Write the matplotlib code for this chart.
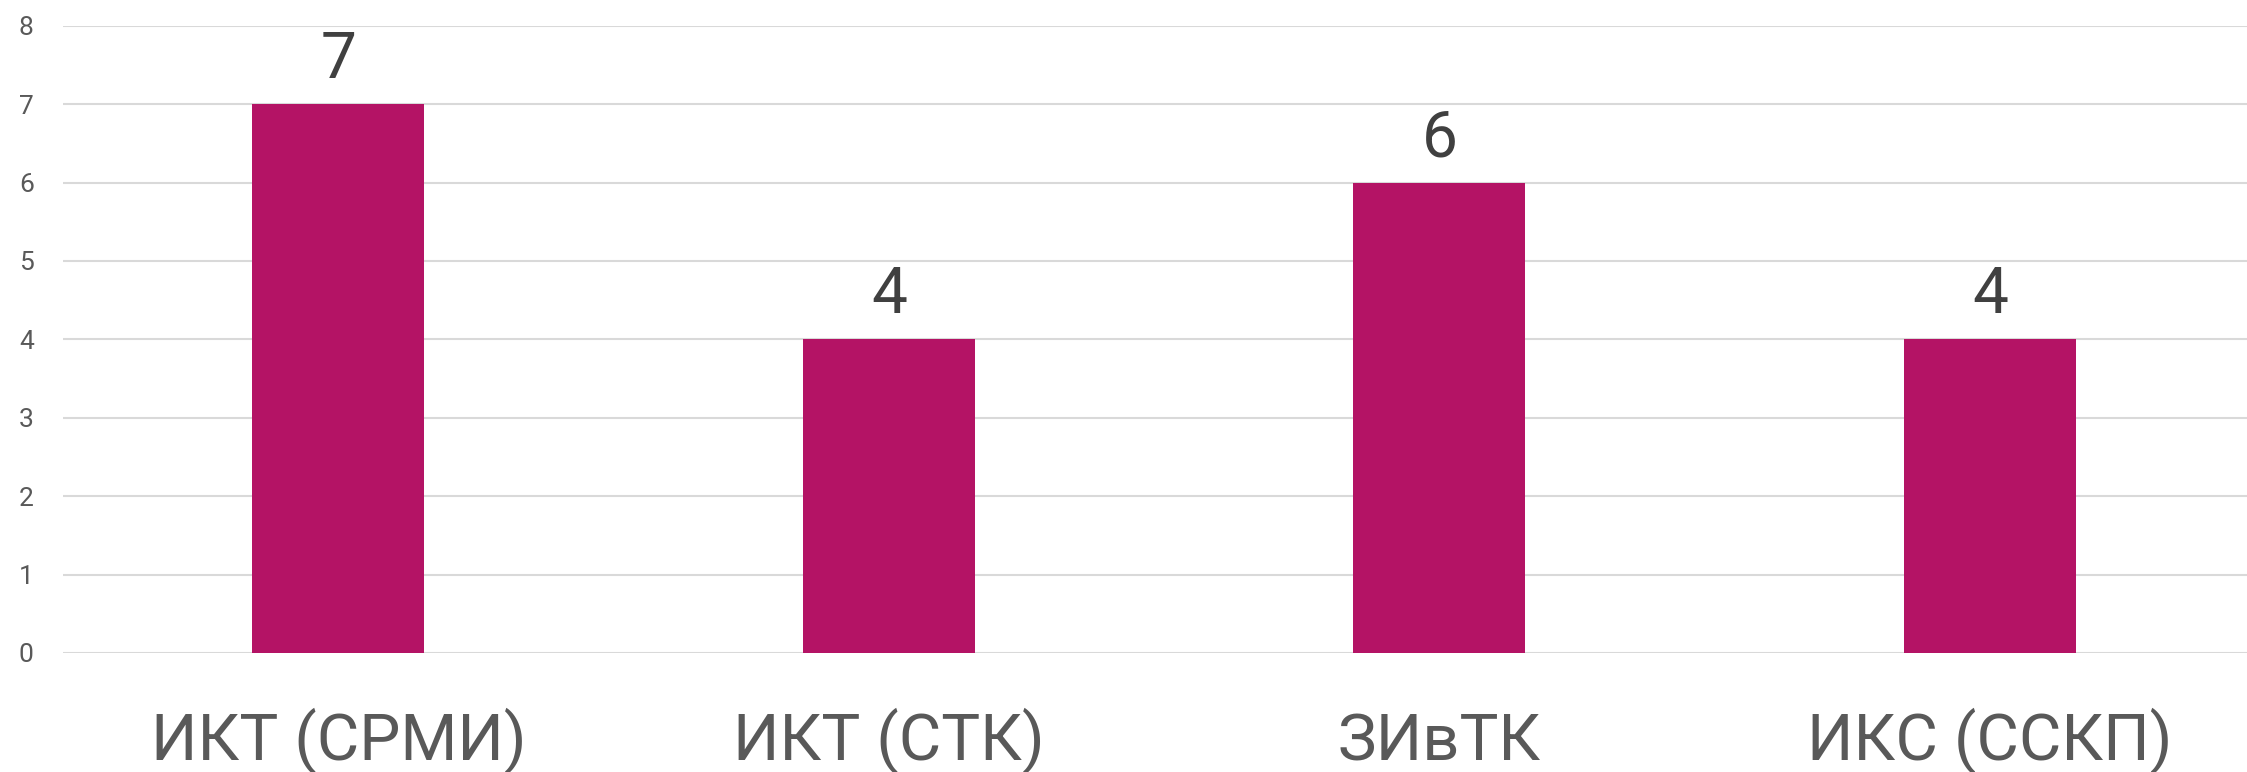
import matplotlib.pyplot as plt

plt.rcParams['font.family'] = ['Roboto', 'DejaVu Sans']

categories = ["ИКТ (СРМИ)", "ИКТ (СТК)", "ЗИвТК", "ИКС (ССКП)"]
values = [7, 4, 6, 4]
y_ticks = [0, 1, 2, 3, 4, 5, 6, 7, 8]

bar_color = "#B41365"
grid_color = "#D9D9D9"

fig = plt.figure(figsize=(22.47, 7.72), dpi=100)
ax = fig.add_axes([63 / 2247, 119 / 772, 1 - 63 / 2247, (653 - 25.7) / 772])

x = range(len(categories))
ax.bar(x, values, width=0.3125, color=bar_color, zorder=2)

ax.set_xlim(-0.5, 3.467)
ax.set_ylim(0, 8)
ax.set_yticks(y_ticks)
ax.set_yticklabels([str(t) for t in y_ticks], fontsize=19, color="#595959")
ax.tick_params(axis="y", length=0, pad=21)
ax.set_xticks([])
ax.yaxis.grid(True, color=grid_color, linewidth=1.5, zorder=0)
ax.set_axisbelow(True)
for s in ax.spines.values():
    s.set_visible(False)

# value labels above bars
for i, v in zip(x, values):
    ax.text(i, v + 0.33, str(v), ha="center", va="baseline", fontsize=46,
            color="#404040")

# category labels under the axis
for i, c in zip(x, categories):
    ax.text(i, -1.365, c, ha="center", va="baseline", fontsize=47,
            color="#595959", clip_on=False)

fig.savefig("out.png", dpi=100)
